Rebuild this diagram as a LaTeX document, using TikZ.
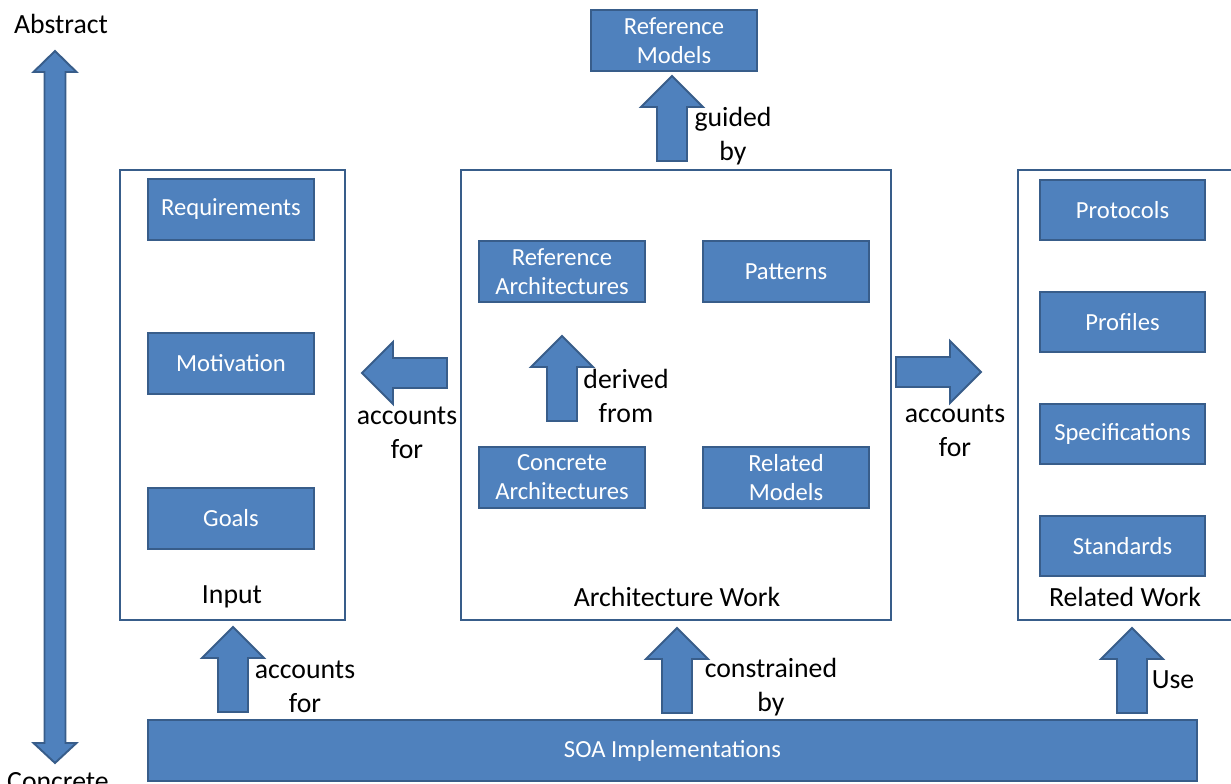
\documentclass[tikz,border=0pt]{standalone}
\usepackage{fontspec}
\setmainfont{Carlito}
\definecolor{boxblue}{HTML}{4F81BD}
\definecolor{boxedge}{HTML}{385D8A}
\tikzset{
  box/.style={draw=boxedge,line width=1.2pt,fill=boxblue,text=white,align=center,
    minimum width=3.32cm,minimum height=1.22cm,inner sep=0pt,
    font=\fontsize{14}{16.5}\selectfont},
  frame/.style={draw=boxedge,line width=1.1pt,fill=white,inner sep=0pt},
  lbl/.style={align=center,inner sep=0pt,font=\fontsize{15.8}{19.3}\selectfont},
  arrowfill/.style={draw=boxedge,line width=1.1pt,fill=boxblue,line join=miter},
  fatarrow/.pic={\draw[arrowfill] (0,0) -- (31,31) -- (15,31) -- (15,85) -- (-15,85) -- (-15,31) -- (-31,31) -- cycle;}
}
\begin{document}
\begin{tikzpicture}[x=0.02cm,y=-0.02cm]
    \useasboundingbox (0,0) rectangle (1231,784);

    % Abstract / Concrete axis
    \draw [arrowfill] (55,51) -- (76.5,72) -- (65.5,72) -- (65.5,743) -- (76.5,743) -- (55,763)
        -- (33.5,743) -- (44.5,743) -- (44.5,72) -- (33.5,72) -- cycle;
    \node [lbl] (abs) at (61,24) {Abstract};
    \node [lbl] (con) at (58,782) {Concrete};

    % Containers
    \node [frame,minimum width=4.5cm,minimum height=9cm] (input) at (232.5,395) {};
    \node [frame,minimum width=8.6cm,minimum height=9cm] (arch) at (676,395) {};
    \node [frame,minimum width=4.44cm,minimum height=9cm] (rel) at (1129,395) {};
    \node [lbl] (inputlbl) at (232,597) {Input};
    \node [lbl] (archlbl) at (677,597) {Architecture Work};
    \node [lbl] (rellbl) at (1125,597) {Related Work};

    % Input
    \node [box] (req) at (231,209.5) {Requirements};
    \node [box] (mot) at (231,363.5) {Motivation};
    \node [box] (goal) at (231,518.5) {Goals};

    % Architecture Work
    \node [box] (refarch) at (562,271.5) {Reference\\Architectures};
    \node [box] (pat) at (786,271.5) {Patterns};
    \node [box] (concarch) at (562,477.5) {Concrete\\Architectures};
    \node [box] (relmod) at (786,477.5) {Related\\Models};
    \node [box] (refmod) at (674,40.5) {Reference\\Models};

    % Related Work
    \node [box,minimum width=3.3cm,minimum height=1.2cm] (prot) at (1122.5,210) {Protocols};
    \node [box,minimum width=3.3cm,minimum height=1.2cm] (prof) at (1122.5,322) {Profiles};
    \node [box,minimum width=3.3cm,minimum height=1.2cm] (spec) at (1122.5,434) {Specifications};
    \node [box,minimum width=3.3cm,minimum height=1.2cm] (std) at (1122.5,546) {Standards};

    \node [box,minimum width=20.98cm] (soa) at (672.5,750.5) {SOA Implementations};

    % Block arrows
    \pic at (672,76) {fatarrow};
    \node [lbl] (guided) at (733,136) {guided\\by};
    \pic at (562,336) {fatarrow};
    \node [lbl] (derived) at (626,396) {derived\\from};
    \pic [rotate=90] at (362,373) {fatarrow};
    \node [lbl] (accl) at (407,433) {accounts\\for};
    \pic [rotate=-90] at (981,372) {fatarrow};
    \node [lbl] (accr) at (955,431) {accounts\\for};
    \pic at (233,627) {fatarrow};
    \node [lbl] (accb) at (305,687) {accounts\\for};
    \pic at (677,628) {fatarrow};
    \node [lbl] (constr) at (771,687) {constrained\\by};
    \pic at (1132,628) {fatarrow};
    \node [lbl] (use) at (1173,680) {Use};
\end{tikzpicture}
\end{document}
